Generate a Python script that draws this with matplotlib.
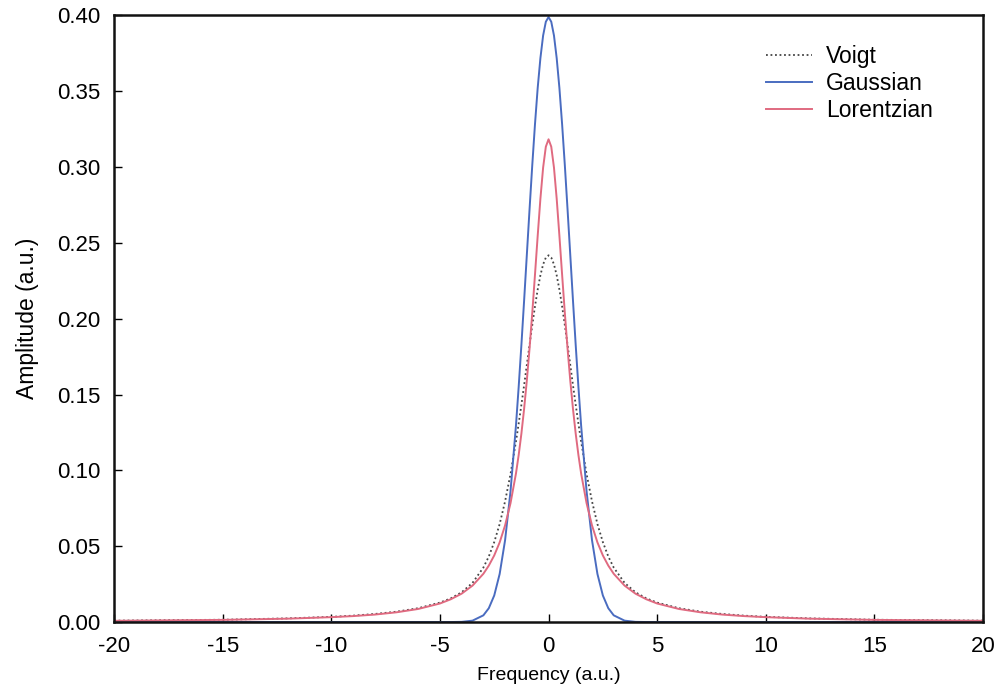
import matplotlib
matplotlib.use("Agg")
import matplotlib.pyplot as plt

plt.rcParams['font.family'] = ['Liberation Sans', 'DejaVu Sans']

# Frequency sample positions (a.u.)
freq = [-20, -15, -12, -10, -9, -8, -7, -6, -5, -4.5, -4, -3.5, -3, -2.75, -2.5, -2.25,
        -2, -1.75, -1.5, -1.375, -1.25, -1.125, -1, -0.875, -0.75, -0.625, -0.5,
        -0.375, -0.25, -0.125, 0,
        0.125, 0.25, 0.375, 0.5, 0.625, 0.75, 0.875, 1, 1.125, 1.25, 1.375, 1.5,
        1.75, 2, 2.25, 2.5, 2.75, 3, 3.5, 4, 4.5, 5, 6, 7, 8, 9, 10, 12, 15, 20]

voigt = [0.0009, 0.0015, 0.0024, 0.0034, 0.0042, 0.0053, 0.0068, 0.0091, 0.0128, 0.0156,
         0.0196, 0.0258, 0.0359, 0.0432, 0.0527, 0.0646, 0.0796, 0.0976, 0.1190, 0.1308,
         0.1432, 0.1561, 0.1695, 0.1827, 0.1957, 0.2081, 0.2192, 0.2286, 0.2358, 0.2403,
         0.2418,
         0.2403, 0.2358, 0.2286, 0.2192, 0.2081, 0.1957, 0.1827, 0.1695, 0.1561, 0.1432,
         0.1308, 0.1190, 0.0976, 0.0796, 0.0646, 0.0527, 0.0432, 0.0359, 0.0258, 0.0196,
         0.0156, 0.0128, 0.0091, 0.0068, 0.0053, 0.0042, 0.0034, 0.0024, 0.0015, 0.0009]

gaussian = [0.0, 0.0, 0.0, 0.0, 0.0, 0.0, 0.0, 0.0, 0.0, 0.0, 0.0001, 0.0009, 0.0044,
            0.0091, 0.0175, 0.0317, 0.0540, 0.0863, 0.1295, 0.1550, 0.1826, 0.2119,
            0.2420, 0.2720, 0.3011, 0.3281, 0.3521, 0.3718, 0.3867, 0.3958, 0.3989,
            0.3958, 0.3867, 0.3718, 0.3521, 0.3281, 0.3011, 0.2720, 0.2420, 0.2119,
            0.1826, 0.1550, 0.1295, 0.0863, 0.0540, 0.0317, 0.0175, 0.0091, 0.0044,
            0.0009, 0.0001, 0.0, 0.0, 0.0, 0.0, 0.0, 0.0, 0.0, 0.0, 0.0, 0.0]

lorentzian = [0.0008, 0.0014, 0.0022, 0.0032, 0.0039, 0.0049, 0.0064, 0.0086, 0.0122,
              0.0150, 0.0187, 0.0240, 0.0318, 0.0372, 0.0439, 0.0525, 0.0637, 0.0784,
              0.0979, 0.1101, 0.1242, 0.1405, 0.1592, 0.1803, 0.2037, 0.2289, 0.2546,
              0.2791, 0.2996, 0.3134, 0.3183,
              0.3134, 0.2996, 0.2791, 0.2546, 0.2289, 0.2037, 0.1803, 0.1592, 0.1405,
              0.1242, 0.1101, 0.0979, 0.0784, 0.0637, 0.0525, 0.0439, 0.0372, 0.0318,
              0.0240, 0.0187, 0.0150, 0.0122, 0.0086, 0.0064, 0.0049, 0.0039, 0.0032,
              0.0022, 0.0014, 0.0008]

x_ticks = [-20, -15, -10, -5, 0, 5, 10, 15, 20]
y_ticks = [0.00, 0.05, 0.10, 0.15, 0.20, 0.25, 0.30, 0.35, 0.40]

fig = plt.figure(figsize=(9.96, 6.87), dpi=100)
ax = fig.add_axes([0.1145, 0.0946, 0.8725, 0.883])

ax.plot(freq, voigt, color='#444444', linestyle=(0, (1, 1.5)), linewidth=1.3, label='Voigt')
ax.plot(freq, gaussian, color='#4a6cc0', linewidth=1.4, label='Gaussian')
ax.plot(freq, lorentzian, color='#e06a80', linewidth=1.4, label='Lorentzian')

ax.set_xlim(-20, 20)
ax.set_ylim(0, 0.40)
ax.set_xticks(x_ticks)
ax.set_xticklabels([f"{t}" for t in x_ticks])
ax.set_yticks(y_ticks)
ax.set_yticklabels([f"{t:.2f}" for t in y_ticks])
ax.tick_params(direction='in', length=6, width=1, labelsize=16, top=False, right=False)
ax.tick_params(axis='y', pad=10)
ax.tick_params(axis='x', pad=10)
for s in ax.spines.values():
    s.set_linewidth(1.8)
    s.set_color('#111111')

ax.set_xlabel('Frequency (a.u.)', fontsize=14, labelpad=7)
ax.set_ylabel('Amplitude (a.u.)', fontsize=16.5, labelpad=13)

ax.legend(loc='upper left', bbox_to_anchor=(766 / 996, 1 - 45 / 687),
          bbox_transform=fig.transFigure, frameon=False, borderpad=0,
          borderaxespad=0, handlelength=2.0, handletextpad=0.62,
          labelspacing=0.18, fontsize=16.5)

fig.savefig('out.png', dpi=100)
